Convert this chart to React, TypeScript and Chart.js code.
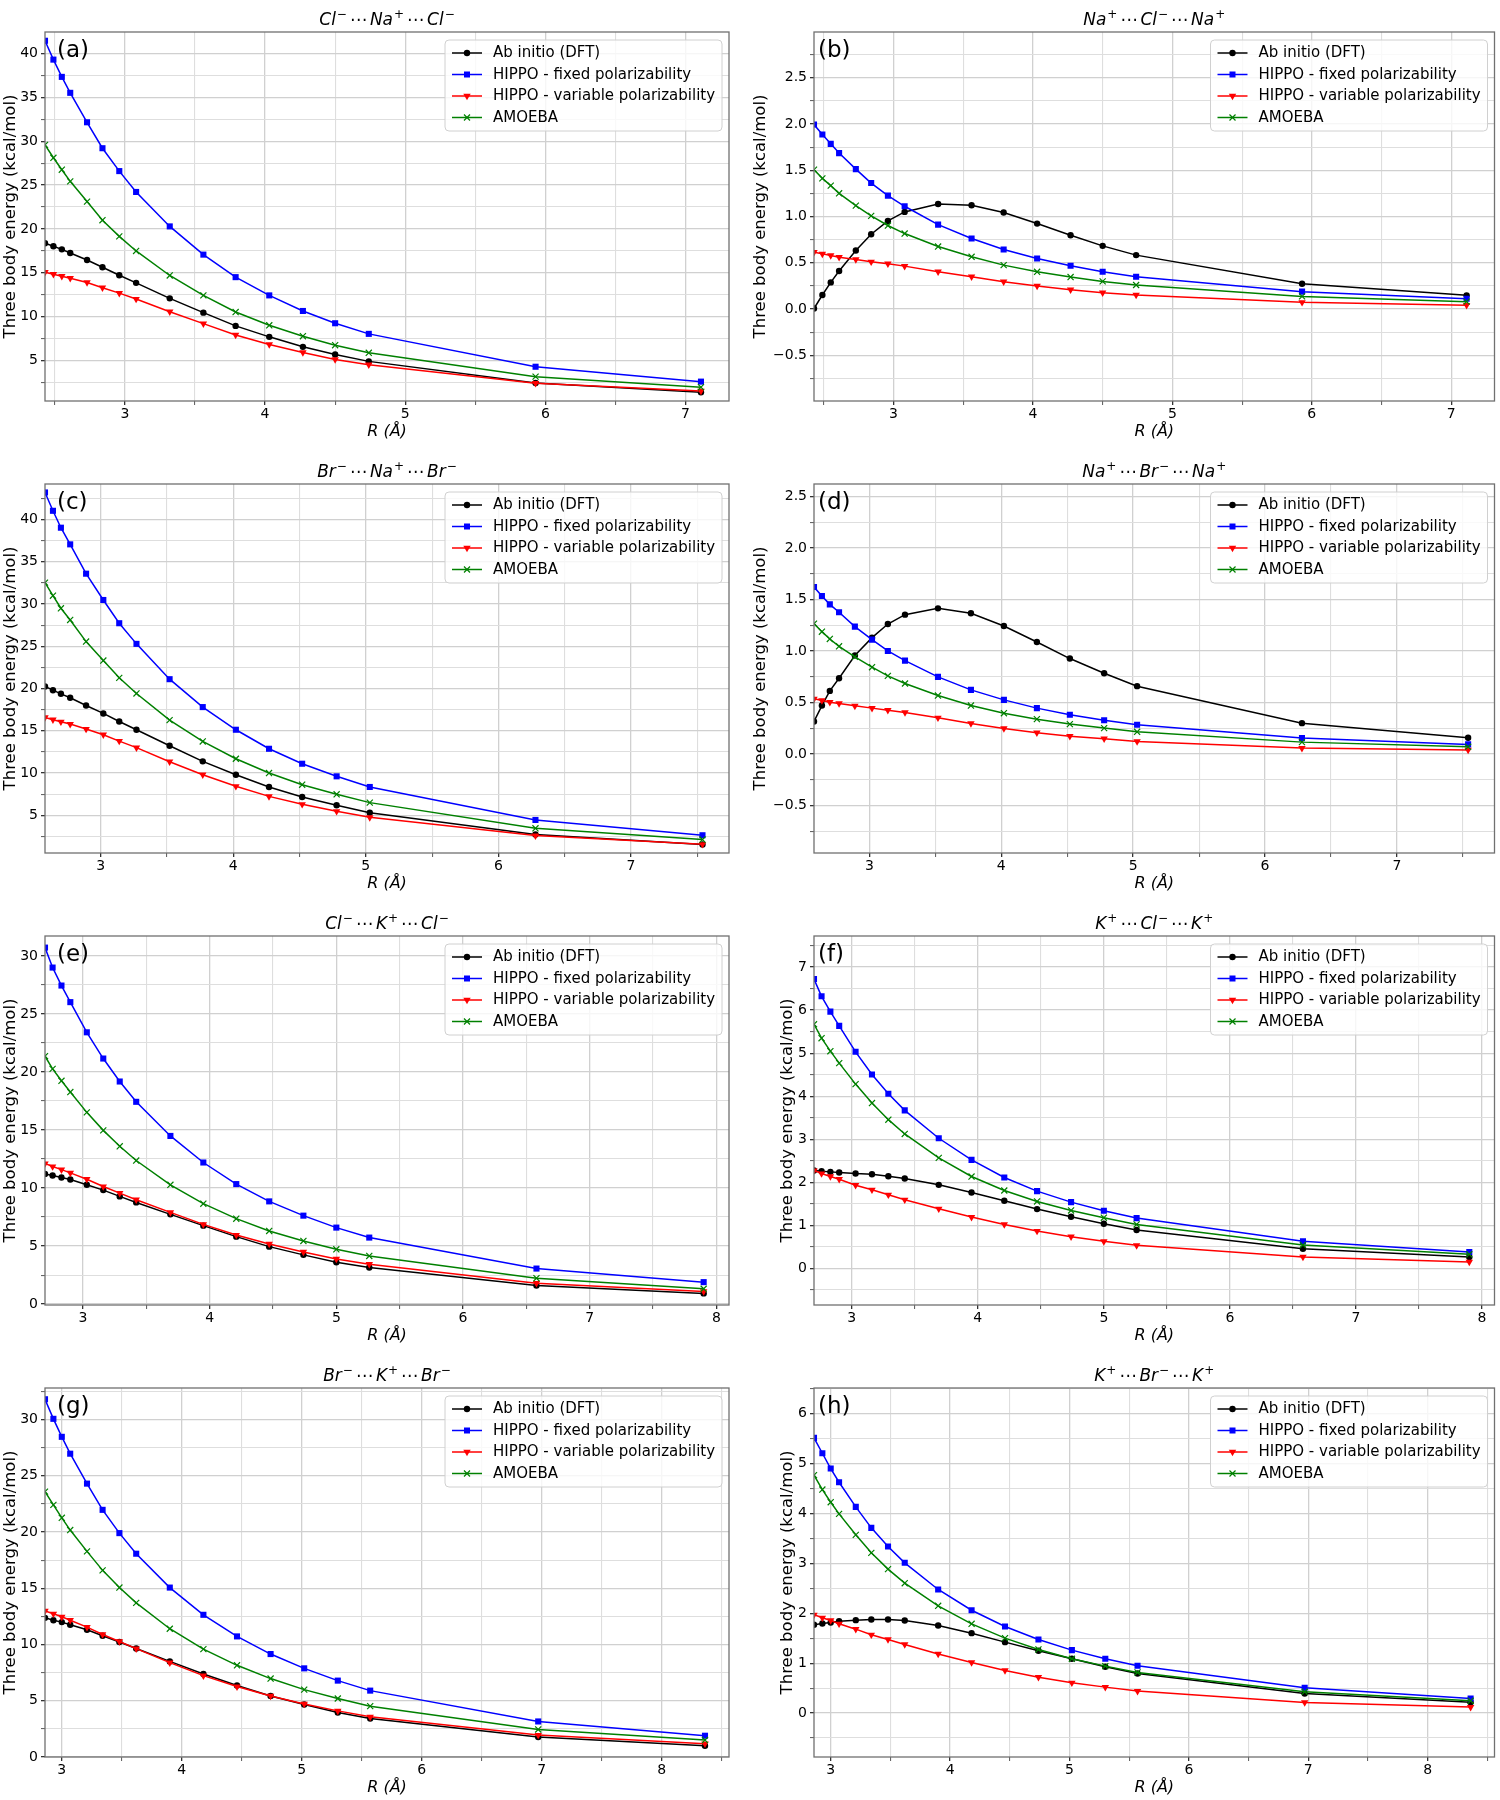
import React, { useEffect, useRef } from 'react';
import { Chart, registerables } from 'chart.js';

Chart.register(...registerables);

// ---------------- data ----------------
const SERIES_NAMES = [
  'Ab initio (DFT)',
  'HIPPO - fixed polarizability',
  'HIPPO - variable polarizability',
  'AMOEBA',
];
const SERIES_COLORS = ['#000000', '#0000ff', '#ff0000', '#008000'];

// distances R (Å)
const R_NaCl = [2.43, 2.49, 2.55, 2.61, 2.73, 2.84, 2.96, 3.08, 3.32, 3.56, 3.79, 4.03, 4.27, 4.50, 4.74, 5.93, 7.11];
const R_NaBr = [2.58, 2.64, 2.70, 2.77, 2.89, 3.02, 3.14, 3.27, 3.52, 3.77, 4.02, 4.27, 4.52, 4.78, 5.03, 6.28, 7.54];
const R_KCl = [2.70, 2.76, 2.83, 2.90, 3.03, 3.16, 3.29, 3.42, 3.69, 3.95, 4.21, 4.47, 4.74, 5.00, 5.26, 6.58, 7.90];
const R_KBr = [2.86, 2.93, 3.00, 3.07, 3.21, 3.34, 3.48, 3.62, 3.90, 4.18, 4.46, 4.74, 5.02, 5.30, 5.57, 6.97, 8.36];

// (a) Cl- ... Na+ ... Cl-
const a_dft = [18.36, 18.02, 17.67, 17.26, 16.46, 15.63, 14.72, 13.85, 12.08, 10.45, 8.94, 7.69, 6.55, 5.68, 4.89, 2.43, 1.37];
const a_fixed = [41.47, 39.32, 37.35, 35.53, 32.17, 29.21, 26.60, 24.22, 20.29, 17.07, 14.50, 12.42, 10.64, 9.24, 8.03, 4.28, 2.58];
const a_var = [15.06, 14.84, 14.61, 14.38, 13.89, 13.29, 12.68, 12.00, 10.56, 9.20, 7.91, 6.82, 5.91, 5.11, 4.51, 2.40, 1.52];
const a_amoeba = [29.59, 28.12, 26.76, 25.43, 23.12, 21.00, 19.15, 17.49, 14.69, 12.42, 10.52, 9.01, 7.76, 6.74, 5.87, 3.15, 1.94];

// (b) Na+ ... Cl- ... Na+
const b_dft = [0.005, 0.151, 0.287, 0.41, 0.632, 0.808, 0.952, 1.049, 1.135, 1.121, 1.042, 0.923, 0.797, 0.682, 0.582, 0.273, 0.147];
const b_fixed = [1.994, 1.886, 1.785, 1.685, 1.512, 1.361, 1.225, 1.110, 0.912, 0.761, 0.643, 0.546, 0.467, 0.402, 0.348, 0.187, 0.111];
const b_var = [0.614, 0.596, 0.578, 0.560, 0.535, 0.510, 0.489, 0.463, 0.402, 0.348, 0.295, 0.248, 0.208, 0.176, 0.151, 0.072, 0.040];
const b_amoeba = [1.505, 1.412, 1.333, 1.250, 1.117, 1.006, 0.902, 0.815, 0.675, 0.564, 0.474, 0.402, 0.345, 0.298, 0.259, 0.136, 0.079];

// (c) Br- ... Na+ ... Br-
const c_dft = [20.24, 19.80, 19.37, 18.90, 17.99, 17.05, 16.10, 15.12, 13.23, 11.38, 9.80, 8.35, 7.17, 6.18, 5.31, 2.72, 1.54];
const c_fixed = [43.19, 41.02, 39.02, 37.05, 33.58, 30.47, 27.72, 25.28, 21.10, 17.80, 15.12, 12.87, 11.10, 9.61, 8.35, 4.45, 2.64];
const c_var = [16.57, 16.30, 16.06, 15.79, 15.20, 14.53, 13.78, 13.00, 11.34, 9.80, 8.43, 7.24, 6.30, 5.47, 4.76, 2.60, 1.57];
const c_amoeba = [32.52, 30.98, 29.49, 28.11, 25.55, 23.31, 21.26, 19.41, 16.26, 13.74, 11.69, 10.00, 8.62, 7.48, 6.50, 3.46, 2.13];

// (d) Na+ ... Br- ... Na+
const d_dft = [0.316, 0.471, 0.613, 0.736, 0.956, 1.130, 1.262, 1.353, 1.414, 1.366, 1.243, 1.088, 0.927, 0.785, 0.659, 0.300, 0.158];
const d_fixed = [1.621, 1.534, 1.453, 1.376, 1.237, 1.111, 1.001, 0.907, 0.749, 0.623, 0.526, 0.446, 0.381, 0.329, 0.284, 0.155, 0.094];
const d_var = [0.536, 0.520, 0.504, 0.491, 0.468, 0.446, 0.426, 0.404, 0.352, 0.297, 0.249, 0.207, 0.174, 0.149, 0.123, 0.058, 0.040];
const d_amoeba = [1.266, 1.188, 1.117, 1.046, 0.943, 0.843, 0.759, 0.685, 0.568, 0.471, 0.397, 0.339, 0.291, 0.252, 0.216, 0.116, 0.071];

// (e) Cl- ... K+ ... Cl-
const e_dft = [11.22, 11.08, 10.91, 10.74, 10.28, 9.82, 9.28, 8.76, 7.73, 6.76, 5.81, 4.95, 4.24, 3.61, 3.15, 1.60, 0.92];
const e_fixed = [30.72, 29.00, 27.45, 26.02, 23.42, 21.16, 19.18, 17.43, 14.49, 12.20, 10.34, 8.85, 7.62, 6.59, 5.73, 3.06, 1.89];
const e_var = [12.11, 11.85, 11.59, 11.31, 10.76, 10.13, 9.56, 8.99, 7.90, 6.87, 5.95, 5.18, 4.49, 3.89, 3.44, 1.80, 1.09];
const e_amoeba = [21.36, 20.27, 19.24, 18.27, 16.52, 14.97, 13.60, 12.37, 10.28, 8.65, 7.36, 6.30, 5.44, 4.72, 4.15, 2.23, 1.32];

// (f) K+ ... Cl- ... K+
const f_dft = [2.272, 2.257, 2.241, 2.226, 2.202, 2.187, 2.141, 2.087, 1.940, 1.762, 1.569, 1.376, 1.198, 1.036, 0.889, 0.456, 0.263];
const f_fixed = [6.723, 6.321, 5.966, 5.634, 5.031, 4.505, 4.057, 3.671, 3.022, 2.519, 2.110, 1.793, 1.538, 1.337, 1.167, 0.626, 0.379];
const f_var = [2.272, 2.202, 2.133, 2.071, 1.932, 1.824, 1.708, 1.592, 1.383, 1.190, 1.020, 0.866, 0.734, 0.626, 0.533, 0.263, 0.147];
const f_amoeba = [5.672, 5.348, 5.046, 4.768, 4.281, 3.841, 3.454, 3.122, 2.566, 2.133, 1.808, 1.553, 1.345, 1.175, 1.020, 0.541, 0.325];

// (g) Br- ... K+ ... Br-
const g_dft = [12.37, 12.16, 11.99, 11.75, 11.31, 10.78, 10.22, 9.65, 8.50, 7.38, 6.35, 5.43, 4.67, 3.96, 3.42, 1.77, 1.00];
const g_fixed = [31.80, 30.06, 28.46, 26.96, 24.30, 21.97, 19.90, 18.07, 15.06, 12.64, 10.72, 9.15, 7.88, 6.79, 5.90, 3.16, 1.89];
const g_var = [12.99, 12.73, 12.46, 12.16, 11.54, 10.89, 10.27, 9.63, 8.39, 7.23, 6.26, 5.43, 4.72, 4.10, 3.57, 1.95, 1.18];
const g_amoeba = [23.59, 22.41, 21.26, 20.17, 18.28, 16.59, 15.06, 13.70, 11.40, 9.59, 8.15, 6.97, 5.99, 5.20, 4.52, 2.45, 1.51];

// (h) K+ ... Br- ... K+
const h_dft = [1.770, 1.797, 1.817, 1.844, 1.864, 1.877, 1.877, 1.857, 1.757, 1.603, 1.423, 1.249, 1.089, 0.929, 0.795, 0.394, 0.220];
const h_fixed = [5.518, 5.210, 4.903, 4.629, 4.135, 3.714, 3.340, 3.013, 2.478, 2.062, 1.737, 1.476, 1.263, 1.089, 0.949, 0.508, 0.294];
const h_var = [1.971, 1.911, 1.857, 1.790, 1.683, 1.570, 1.476, 1.376, 1.187, 1.015, 0.855, 0.721, 0.608, 0.521, 0.441, 0.214, 0.120];
const h_amoeba = [4.770, 4.482, 4.228, 3.995, 3.574, 3.213, 2.886, 2.605, 2.151, 1.790, 1.503, 1.276, 1.089, 0.942, 0.815, 0.428, 0.247];

// titles: [element, charge]
type Ion = [string, string];
const TITLE_A: Ion[] = [['Cl', '−'], ['Na', '+'], ['Cl', '−']];
const TITLE_B: Ion[] = [['Na', '+'], ['Cl', '−'], ['Na', '+']];
const TITLE_C: Ion[] = [['Br', '−'], ['Na', '+'], ['Br', '−']];
const TITLE_D: Ion[] = [['Na', '+'], ['Br', '−'], ['Na', '+']];
const TITLE_E: Ion[] = [['Cl', '−'], ['K', '+'], ['Cl', '−']];
const TITLE_F: Ion[] = [['K', '+'], ['Cl', '−'], ['K', '+']];
const TITLE_G: Ion[] = [['Br', '−'], ['K', '+'], ['Br', '−']];
const TITLE_H: Ion[] = [['K', '+'], ['Br', '−'], ['K', '+']];

const Y_LABEL = 'Three body energy (kcal/mol)';
const X_LABEL = 'R (Å)';

// ---------------- layout / style ----------------
const FONT = "'DejaVu Sans', sans-serif";
const CELL_W = 750;
const CELL_H = 452;

interface PanelSpec {
  label: string;
  title: Ion[];
  x: number[];
  series: number[][];
  yMajor: number;
  yMinor: number;
  yDec: number;
  col: number;
  row: number;
  ylabelX: number;
}

const PANELS: PanelSpec[] = [
  { label: '(a)', title: TITLE_A, x: R_NaCl, series: [a_dft, a_fixed, a_var, a_amoeba], yMajor: 5, yMinor: 2.5, yDec: 0, col: 0, row: 0, ylabelX: 11 },
  { label: '(b)', title: TITLE_B, x: R_NaCl, series: [b_dft, b_fixed, b_var, b_amoeba], yMajor: 0.5, yMinor: 0.25, yDec: 1, col: 1, row: 0, ylabelX: 11 },
  { label: '(c)', title: TITLE_C, x: R_NaBr, series: [c_dft, c_fixed, c_var, c_amoeba], yMajor: 5, yMinor: 2.5, yDec: 0, col: 0, row: 1, ylabelX: 11 },
  { label: '(d)', title: TITLE_D, x: R_NaBr, series: [d_dft, d_fixed, d_var, d_amoeba], yMajor: 0.5, yMinor: 0.25, yDec: 1, col: 1, row: 1, ylabelX: 11 },
  { label: '(e)', title: TITLE_E, x: R_KCl, series: [e_dft, e_fixed, e_var, e_amoeba], yMajor: 5, yMinor: 2.5, yDec: 0, col: 0, row: 2, ylabelX: 11 },
  { label: '(f)', title: TITLE_F, x: R_KCl, series: [f_dft, f_fixed, f_var, f_amoeba], yMajor: 1, yMinor: 0.5, yDec: 0, col: 1, row: 2, ylabelX: 38 },
  { label: '(g)', title: TITLE_G, x: R_KBr, series: [g_dft, g_fixed, g_var, g_amoeba], yMajor: 5, yMinor: 2.5, yDec: 0, col: 0, row: 3, ylabelX: 11 },
  { label: '(h)', title: TITLE_H, x: R_KBr, series: [h_dft, h_fixed, h_var, h_amoeba], yMajor: 1, yMinor: 0.5, yDec: 0, col: 1, row: 3, ylabelX: 38 },
];

const POINT_STYLES = ['circle', 'rect', 'triangle', 'crossRot'];
const POINT_RADII = [3.2, 4.3, 4.3, 4.3];
const POINT_ROT = [0, 0, 180, 0];
const MARKERS = ['o', 's', 'v', 'x'];

function makeTicks(min: number, max: number, step: number): number[] {
  const out: number[] = [];
  const start = Math.ceil(min / step - 1e-9);
  for (let i = start; i * step <= max + 1e-9; i++) {
    out.push(Math.round(i * step * 1e6) / 1e6);
  }
  return out;
}

function isMultiple(v: number, step: number) {
  const r = v / step;
  return Math.abs(r - Math.round(r)) < 1e-6;
}

function fmtNum(v: number, dec: number) {
  const s = Math.abs(v) < 1e-9 ? (0).toFixed(dec) : v.toFixed(dec);
  return s.replace('-', '−');
}

function drawMarker(ctx: CanvasRenderingContext2D, kind: string, x: number, y: number, color: string) {
  ctx.save();
  ctx.fillStyle = color;
  ctx.strokeStyle = color;
  if (kind === 'o') {
    ctx.beginPath();
    ctx.arc(x, y, 3.2, 0, Math.PI * 2);
    ctx.fill();
  } else if (kind === 's') {
    ctx.fillRect(x - 3, y - 3, 6, 6);
  } else if (kind === 'v') {
    ctx.beginPath();
    ctx.moveTo(x - 3.7, y - 2.2);
    ctx.lineTo(x + 3.7, y - 2.2);
    ctx.lineTo(x, y + 4.3);
    ctx.closePath();
    ctx.fill();
  } else {
    ctx.lineWidth = 1.2;
    ctx.beginPath();
    ctx.moveTo(x - 3, y - 3);
    ctx.lineTo(x + 3, y + 3);
    ctx.moveTo(x - 3, y + 3);
    ctx.lineTo(x + 3, y - 3);
    ctx.stroke();
  }
  ctx.restore();
}

function drawTitle(ctx: CanvasRenderingContext2D, ions: Ion[], cx: number, baseline: number) {
  const mainF = `italic 17px ${FONT}`;
  const supF = `12px ${FONT}`;
  const dotF = `17px ${FONT}`;
  const parts: { t: string; f: string; dy: number; gap: number }[] = [];
  ions.forEach(([el, ch], i) => {
    parts.push({ t: el, f: mainF, dy: 0, gap: 1 });
    parts.push({ t: ch, f: supF, dy: -7, gap: i < ions.length - 1 ? 3 : 0 });
    if (i < ions.length - 1) parts.push({ t: '⋯', f: dotF, dy: 0, gap: 3 });
  });
  let total = 0;
  const widths = parts.map((p) => {
    ctx.font = p.f;
    const w = ctx.measureText(p.t).width;
    total += w + p.gap;
    return w;
  });
  let x = cx - total / 2;
  ctx.fillStyle = '#000';
  ctx.textAlign = 'left';
  ctx.textBaseline = 'alphabetic';
  parts.forEach((p, i) => {
    ctx.font = p.f;
    ctx.fillText(p.t, x, baseline + p.dy);
    x += widths[i] + p.gap;
  });
}

function buildConfig(spec: PanelSpec, canvasH: number): any {
  const xMin = spec.x[0];
  const xMax = spec.x[spec.x.length - 1] + 0.2;
  const all = spec.series.flat();
  const yMin = Math.min(...all) - 1;
  const yMax = Math.max(...all) + 1;
  const xTicks = makeTicks(xMin, xMax, 0.5);
  const yTicks = makeTicks(yMin, yMax, spec.yMinor);

  const isLeft = spec.col === 0;
  const yAxisW = isLeft ? 45 : 64;
  const padRight = isLeft ? 21 : 2;
  const xAxisH = 40;
  const padBottom = canvasH - 401 - xAxisH;

  const datasets = spec.series.map((vals, i) => ({
    label: SERIES_NAMES[i],
    data: spec.x.map((xv, j) => ({ x: xv, y: vals[j] })),
    borderColor: SERIES_COLORS[i],
    backgroundColor: SERIES_COLORS[i],
    borderWidth: 1.5,
    pointStyle: POINT_STYLES[i],
    pointRadius: POINT_RADII[i],
    pointHoverRadius: POINT_RADII[i],
    pointRotation: POINT_ROT[i],
    pointBackgroundColor: SERIES_COLORS[i],
    pointBorderColor: SERIES_COLORS[i],
    pointBorderWidth: MARKERS[i] === 'x' ? 1.2 : 0,
    tension: 0,
    fill: false,
    order: 3 - i,
  }));

  const gridCommon = (major: number) => ({
    color: (c: any) => (c.tick && isMultiple(c.tick.value, major) ? '#d0d0d0' : '#dedede'),
    lineWidth: (c: any) => (c.tick && isMultiple(c.tick.value, major) ? 1.3 : 1.1),
    tickColor: (c: any) => (c.tick && isMultiple(c.tick.value, major) ? '#333333' : '#666666'),
    tickLength: 4,
    drawTicks: true,
    drawOnChartArea: true,
  });

  const decor = {
    id: 'decor',
    afterDraw(chart: any) {
      const ctx: CanvasRenderingContext2D = chart.ctx;
      const ca = chart.chartArea;
      ctx.save();
      // spines
      ctx.strokeStyle = '#707070';
      ctx.lineWidth = 1.3;
      ctx.strokeRect(ca.left, ca.top, ca.right - ca.left, ca.bottom - ca.top);

      // panel label
      ctx.fillStyle = '#000';
      ctx.font = `23px ${FONT}`;
      ctx.textAlign = 'left';
      ctx.textBaseline = 'middle';
      ctx.fillText(spec.label, ca.left + (isLeft ? 12 : 4), ca.top + 19);

      // legend
      const lw = 277;
      const lh = 91;
      const lx = ca.right - 7 - lw;
      const ly = ca.top + 8;
      ctx.beginPath();
      const r = 4;
      ctx.moveTo(lx + r, ly);
      ctx.lineTo(lx + lw - r, ly);
      ctx.quadraticCurveTo(lx + lw, ly, lx + lw, ly + r);
      ctx.lineTo(lx + lw, ly + lh - r);
      ctx.quadraticCurveTo(lx + lw, ly + lh, lx + lw - r, ly + lh);
      ctx.lineTo(lx + r, ly + lh);
      ctx.quadraticCurveTo(lx, ly + lh, lx, ly + lh - r);
      ctx.lineTo(lx, ly + r);
      ctx.quadraticCurveTo(lx, ly, lx + r, ly);
      ctx.closePath();
      ctx.fillStyle = 'rgba(255,255,255,0.8)';
      ctx.fill();
      ctx.strokeStyle = '#d0d0d0';
      ctx.lineWidth = 1;
      ctx.stroke();
      SERIES_NAMES.forEach((name, i) => {
        const ry = ly + 13 + i * 21.5;
        ctx.strokeStyle = SERIES_COLORS[i];
        ctx.lineWidth = 1.5;
        ctx.beginPath();
        ctx.moveTo(lx + 7, ry);
        ctx.lineTo(lx + 37, ry);
        ctx.stroke();
        drawMarker(ctx, MARKERS[i], lx + 22, ry, SERIES_COLORS[i]);
        ctx.fillStyle = '#000';
        ctx.font = `15px ${FONT}`;
        ctx.textAlign = 'left';
        ctx.textBaseline = 'middle';
        ctx.fillText(name, lx + 48, ry + 0.5);
      });

      // title
      drawTitle(ctx, spec.title, (ca.left + ca.right) / 2, ca.top - 7);

      // x label
      ctx.fillStyle = '#000';
      ctx.font = `italic 16px ${FONT}`;
      ctx.textAlign = 'center';
      ctx.textBaseline = 'middle';
      ctx.fillText(X_LABEL, (ca.left + ca.right) / 2, ca.bottom + 31);

      // y label
      ctx.save();
      ctx.translate(spec.ylabelX, (ca.top + ca.bottom) / 2);
      ctx.rotate(-Math.PI / 2);
      ctx.font = `16.5px ${FONT}`;
      ctx.textAlign = 'center';
      ctx.textBaseline = 'middle';
      ctx.fillText(Y_LABEL, 0, 0);
      ctx.restore();

      ctx.restore();
    },
  };

  return {
    type: 'line',
    data: { datasets },
    options: {
      responsive: false,
      maintainAspectRatio: false,
      animation: false,
      devicePixelRatio: 1,
      events: [],
      layout: { padding: { left: 0, right: padRight, top: 32, bottom: padBottom } },
      plugins: {
        legend: { display: false },
        tooltip: { enabled: false },
        title: { display: false },
      },
      scales: {
        x: {
          type: 'linear',
          min: xMin,
          max: xMax,
          grid: gridCommon(1),
          border: { display: false },
          afterBuildTicks: (scale: any) => {
            scale.ticks = xTicks.map((v) => ({ value: v }));
          },
          afterFit: (scale: any) => {
            scale.height = xAxisH;
          },
          ticks: {
            autoSkip: false,
            maxRotation: 0,
            minRotation: 0,
            padding: 1,
            color: '#000',
            font: { family: FONT, size: 14 },
            callback: (v: number) => (isMultiple(v, 1) ? String(Math.round(v)) : ''),
          },
        },
        y: {
          type: 'linear',
          min: yMin,
          max: yMax,
          grid: gridCommon(spec.yMajor),
          border: { display: false },
          afterBuildTicks: (scale: any) => {
            scale.ticks = yTicks.map((v) => ({ value: v }));
          },
          afterFit: (scale: any) => {
            scale.width = yAxisW;
          },
          ticks: {
            autoSkip: false,
            padding: 3,
            color: '#000',
            font: { family: FONT, size: 14 },
            callback: (v: number) => (isMultiple(v, spec.yMajor) ? fmtNum(v, spec.yDec) : ''),
          },
        },
      },
    },
    plugins: [decor],
  };
}

function Panel({ spec }: { spec: PanelSpec }) {
  const ref = useRef<HTMLCanvasElement>(null);
  const h = spec.row === 3 ? 1800 - 3 * CELL_H : CELL_H;
  useEffect(() => {
    const canvas = ref.current;
    if (!canvas) return;
    const chart = new Chart(canvas, buildConfig(spec, h));
    return () => chart.destroy();
  }, [spec, h]);
  return (
    <canvas
      ref={ref}
      width={CELL_W}
      height={h}
      style={{
        position: 'absolute',
        left: spec.col * CELL_W,
        top: spec.row * CELL_H,
        width: CELL_W,
        height: h,
      }}
    />
  );
}

export default function App() {
  return (
    <div
      style={{
        position: 'absolute',
        left: 0,
        top: 0,
        width: 1500,
        height: 1800,
        background: '#ffffff',
        overflow: 'hidden',
      }}
    >
      {PANELS.map((p) => (
        <Panel key={p.label} spec={p} />
      ))}
    </div>
  );
}
